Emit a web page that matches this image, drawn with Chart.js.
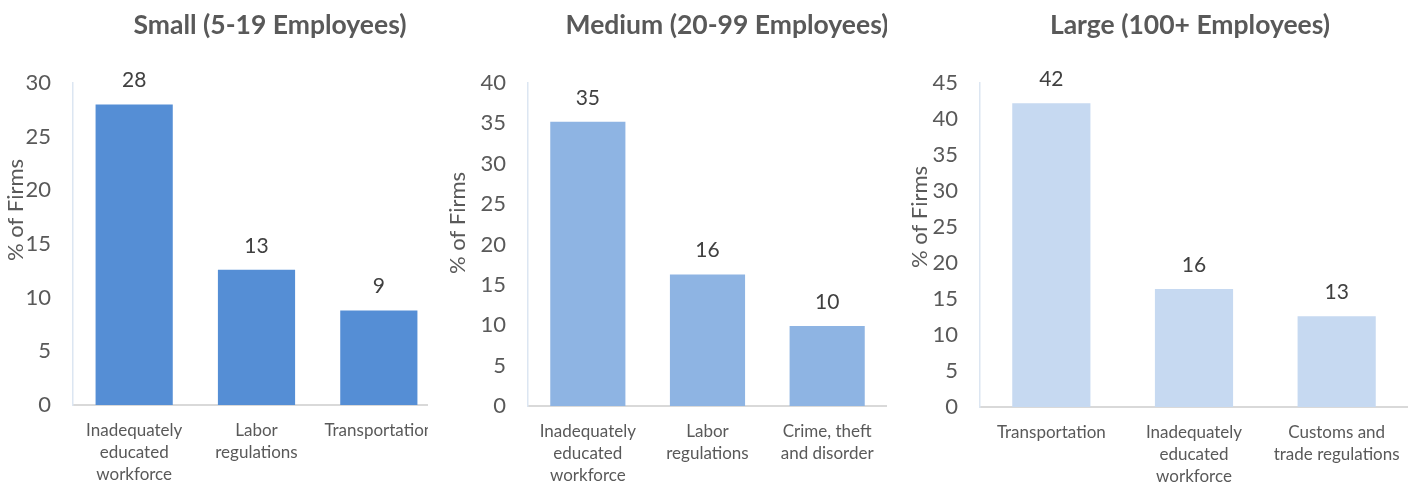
<!DOCTYPE html>
<html>
<head>
<meta charset="utf-8">
<title>Obstacles by Firm Size</title>
<script src="https://cdn.jsdelivr.net/npm/chart.js@4.4.1/dist/chart.umd.min.js"></script>
<style>
	body { margin: 0; background: #fff; }
	.panel { position: absolute; top: 0; height: 485px; overflow: hidden; }
	.panel canvas { display: block; }
</style>
</head>
<body>
<div class="panel" style="left:0;width:428px"><div style="width:440px;height:485px"><canvas id="small"></canvas></div></div>
<div class="panel" style="left:440px;width:460px"><div style="width:447px;height:485px"><canvas id="medium"></canvas></div></div>
<div class="panel" style="left:900px;width:508px"><div style="width:508px;height:485px"><canvas id="large"></canvas></div></div>
<script>
// categories and values
const smallLabels = [["Inadequately", "educated", "workforce"], ["Labor", "regulations"], "Transportation"];
const smallValues = [28.0, 12.6, 8.8];

const mediumLabels = [["Inadequately", "educated", "workforce"], ["Labor", "regulations"], ["Crime, theft", "and disorder"]];
const mediumValues = [35.2, 16.3, 9.9];

const largeLabels = ["Transportation", ["Inadequately", "educated", "workforce"], ["Customs and", "trade regulations"]];
const largeValues = [42.2, 16.4, 12.6];

const yMax = [30, 40, 45];
const yStep = 5;

const FONT = "Lato";
const TEXT = "#595959";

// value labels above each bar
const barValues = {
	id: "barValues",
	afterDatasetsDraw(chart) {
		const ctx = chart.ctx;
		const meta = chart.getDatasetMeta(0);
		ctx.save();
		ctx.font = "21px " + FONT;
		ctx.fillStyle = "#404040";
		ctx.textAlign = "center";
		ctx.textBaseline = "middle";
		meta.data.forEach(function(bar, i) {
			const v = chart.data.datasets[0].data[i];
			ctx.fillText(Math.round(v), bar.x, bar.y - 24);
		});
		ctx.restore();
	}
};

// panel title and the rotated y title sit off-centre in the original, so draw them here
const panelText = {
	id: "panelText",
	afterDraw(chart, args, opts) {
		const ctx = chart.ctx;
		ctx.save();
		ctx.fillStyle = TEXT;
		ctx.textAlign = "center";
		ctx.textBaseline = "middle";
		ctx.font = "bold 26.5px " + FONT;
		ctx.fillText(opts.title, opts.titleX, 25);
		ctx.translate(opts.yTitleX, opts.yTitleY);
		ctx.rotate(-Math.PI / 2);
		ctx.font = "22px " + FONT;
		ctx.fillText("% of Firms", 0, 0);
		ctx.restore();
	}
};

function makeChart(id, labels, values, color, max, p) {
	return new Chart(document.getElementById(id), {
		type: "bar",
		data: {
			labels: labels,
			datasets: [{
				data: values,
				backgroundColor: color,
				categoryPercentage: 1,
				barPercentage: p.bar
			}]
		},
		options: {
			responsive: true,
			maintainAspectRatio: false,
			animation: false,
			layout: { padding: { top: 83, right: 0, bottom: 0, left: 0 } },
			plugins: {
				legend: { display: false },
				tooltip: { enabled: false },
				panelText: p
			},
			scales: {
				x: {
					grid: { display: false, drawTicks: false },
					border: { display: true, color: "#D9D9D9", width: 2 },
					ticks: {
						color: TEXT,
						font: { family: FONT, size: 17, lineHeight: "22px" },
						padding: 15,
						maxRotation: 0,
						autoSkip: false
					},
					afterFit(scale) {
						scale.height = p.xHeight;
						scale.paddingLeft = 0;
						scale.paddingRight = 0;
					}
				},
				y: {
					min: 0,
					max: max,
					grid: { display: false, drawTicks: false },
					border: { display: true, color: "#DCE6F2", width: 1.5 },
					ticks: {
						stepSize: yStep,
						color: TEXT,
						font: { family: FONT, size: 22 },
						padding: 22
					},
					afterFit(scale) {
						scale.width = p.yWidth;
					}
				}
			}
		},
		plugins: [barValues, panelText]
	});
}

function build() {
	makeChart("small", smallLabels, smallValues, "#558ED5", yMax[0], {
		title: "Small (5-19 Employees)", titleX: 270, yTitleX: 15.5, yTitleY: 210,
		yWidth: 73, xHeight: 80, bar: 0.631
	});
	makeChart("medium", mediumLabels, mediumValues, "#8EB4E3", yMax[1], {
		title: "Medium (20-99 Employees)", titleX: 287, yTitleX: 18, yTitleY: 223,
		yWidth: 88, xHeight: 79, bar: 0.628
	});
	makeChart("large", largeLabels, largeValues, "#C6D9F1", yMax[2], {
		title: "Large (100+ Employees)", titleX: 290, yTitleX: 20, yTitleY: 217,
		yWidth: 80, xHeight: 78, bar: 0.548
	});
}

Promise.all([
	document.fonts.load("16px " + FONT),
	document.fonts.load("bold 16px " + FONT)
]).then(build, build);
</script>
</body>
</html>
